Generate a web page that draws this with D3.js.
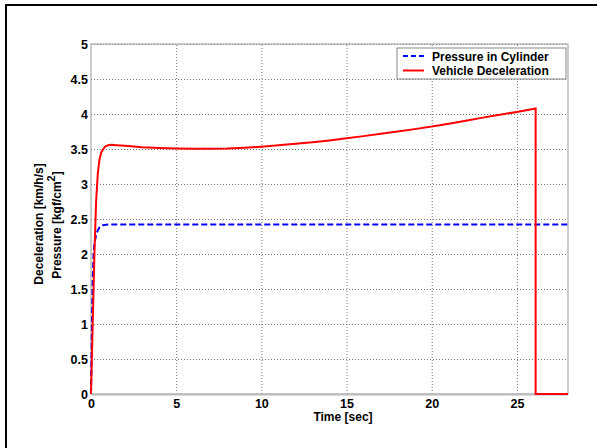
<!DOCTYPE html>
<html>
<head>
<meta charset="utf-8">
<script src="https://cdn.jsdelivr.net/npm/d3@7"></script>
<style>
body { margin: 0; background: #fff; }
text { font-family: "Liberation Sans", Arial, sans-serif; font-weight: bold; }
</style>
</head>
<body>
<script>
// time axis [sec] and series values
var decelTime = [0, 0.1, 0.2, 0.3, 0.4, 0.5, 0.6, 0.8, 1.0, 1.2, 1.5, 2, 3, 4, 5, 6, 7, 8, 9, 10,
                 11, 12, 13, 14, 15, 16, 17, 18, 19, 20, 21, 22, 23, 24, 25, 26.1, 26.1, 28];
var decelValue = [0, 1.0, 2.0, 2.75, 3.15, 3.35, 3.45, 3.53, 3.555, 3.56, 3.555, 3.545, 3.525, 3.515, 3.508, 3.503, 3.502, 3.507, 3.518, 3.533,
                  3.553, 3.574, 3.597, 3.623, 3.652, 3.684, 3.717, 3.75, 3.784, 3.82, 3.862, 3.905, 3.948, 3.99, 4.03, 4.08, 0, 0];

var pressTime = [0, 0.05, 0.1, 0.15, 0.2, 0.3, 0.4, 0.5, 0.7, 1.0, 28];
var pressValue = [0, 0.9, 1.6, 2.0, 2.15, 2.27, 2.34, 2.38, 2.41, 2.42, 2.42];

var xTicks = [0, 5, 10, 15, 20, 25];
var yTicks = [0, 0.5, 1, 1.5, 2, 2.5, 3, 3.5, 4, 4.5, 5];

var w = 597, h = 448;
var pL = 91, pR = 568, pT = 44, pB = 394;

var svg = d3.select("body").append("svg")
    .attr("width", w)
    .attr("height", h);

// outer figure frame
svg.append("rect")
    .attr("x", 6).attr("y", 5)
    .attr("width", 620).attr("height", 480)
    .attr("fill", "none")
    .attr("stroke", "#000")
    .attr("stroke-width", 2);

var x = d3.scaleLinear().domain([0, 28]).range([pL, pR]);
var y = d3.scaleLinear().domain([0, 5]).range([pB, pT]);

// grid
svg.append("g")
    .attr("transform", "translate(0," + pB + ")")
    .call(d3.axisBottom(x).tickValues(xTicks.slice(1)).tickSize(-(pB - pT)).tickFormat(""))
    .call(g => g.select(".domain").remove())
    .selectAll("line")
    .attr("stroke", "#777")
    .attr("stroke-dasharray", "1,2");

svg.append("g")
    .attr("transform", "translate(" + pL + ",0)")
    .call(d3.axisLeft(y).tickValues(yTicks.slice(1)).tickSize(-(pR - pL)).tickFormat(""))
    .call(g => g.select(".domain").remove())
    .selectAll("line")
    .attr("stroke", "#777")
    .attr("stroke-dasharray", "1,2");

// axes box
svg.append("rect")
    .attr("x", pL).attr("y", pT)
    .attr("width", pR - pL).attr("height", pB - pT)
    .attr("fill", "none")
    .attr("stroke", "#999")
    .attr("stroke-width", 1);
svg.append("line")
    .attr("x1", pL).attr("x2", pR)
    .attr("y1", pB + 0.5).attr("y2", pB + 0.5)
    .attr("stroke", "#bbb")
    .attr("stroke-width", 2);

// tick labels
svg.append("g")
    .attr("transform", "translate(0," + pB + ")")
    .call(d3.axisBottom(x).tickValues(xTicks).tickSize(0).tickPadding(5).tickFormat(d3.format("~g")))
    .call(g => g.select(".domain").remove())
    .selectAll("text")
    .attr("font-size", 12.5)
    .attr("font-family", "Liberation Sans, Arial, sans-serif")
    .attr("font-weight", "bold")
    .attr("fill", "#000");

svg.append("g")
    .attr("transform", "translate(" + pL + ",0)")
    .call(d3.axisLeft(y).tickValues(yTicks).tickSize(0).tickPadding(3).tickFormat(d3.format("~g")))
    .call(g => g.select(".domain").remove())
    .selectAll("text")
    .attr("font-size", 12.5)
    .attr("font-family", "Liberation Sans, Arial, sans-serif")
    .attr("font-weight", "bold")
    .attr("fill", "#000");

svg.append("clipPath").attr("id", "plot")
    .append("rect")
    .attr("x", pL - 2).attr("y", pT)
    .attr("width", pR - pL + 2).attr("height", pB - pT + 2);

var line = d3.line()
    .x(function(d) { return x(d[0]); })
    .y(function(d) { return y(d[1]); });

var press = pressTime.map(function(t, i) { return [t, pressValue[i]]; });
var decel = decelTime.map(function(t, i) { return [t, decelValue[i]]; });

svg.append("path")
    .datum(press)
    .attr("clip-path", "url(#plot)")
    .attr("d", line)
    .attr("fill", "none")
    .attr("stroke", "#0000ff")
    .attr("stroke-width", 2)
    .attr("stroke-dasharray", "6,3");

svg.append("path")
    .datum(decel)
    .attr("clip-path", "url(#plot)")
    .attr("d", line)
    .attr("fill", "none")
    .attr("stroke", "#ff0000")
    .attr("stroke-width", 2);

// legend
var lg = svg.append("g");
lg.append("rect")
    .attr("x", 397).attr("y", 48)
    .attr("width", 169).attr("height", 31)
    .attr("fill", "#fff")
    .attr("stroke", "#888");
lg.append("line")
    .attr("x1", 403).attr("x2", 424).attr("y1", 56).attr("y2", 56)
    .attr("stroke", "#0000ff").attr("stroke-width", 2).attr("stroke-dasharray", "5,3");
lg.append("line")
    .attr("x1", 403).attr("x2", 424).attr("y1", 70.5).attr("y2", 70.5)
    .attr("stroke", "#ff0000").attr("stroke-width", 2);
lg.append("text").attr("x", 432).attr("y", 60.5).attr("font-size", 12).text("Pressure in Cylinder");
lg.append("text").attr("x", 432).attr("y", 75).attr("font-size", 12).text("Vehicle Deceleration");

// axis titles
svg.append("text")
    .attr("x", 343).attr("y", 421)
    .attr("text-anchor", "middle")
    .attr("font-size", 12)
    .text("Time [sec]");

svg.append("text")
    .attr("transform", "translate(43,224) rotate(-90)")
    .attr("text-anchor", "middle")
    .attr("font-size", 12)
    .text("Deceleration [km/h/s]");

var t2 = svg.append("text")
    .attr("transform", "translate(61,225) rotate(-90)")
    .attr("text-anchor", "middle")
    .attr("font-size", 12);
t2.append("tspan").text("Pressure [kgf/cm");
t2.append("tspan").attr("dy", -6).attr("font-size", 11).text("2");
t2.append("tspan").attr("dy", 6).text("]");
</script>
</body>
</html>
